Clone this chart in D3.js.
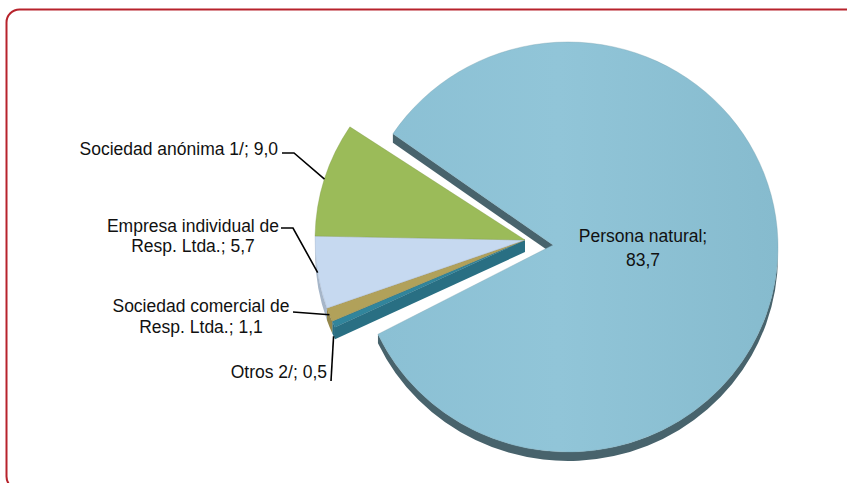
<!DOCTYPE html>
<html>
<head>
<meta charset="utf-8">
<script src="https://cdn.jsdelivr.net/npm/d3@7"></script>
<style>
  body { margin: 0; background: #fff; }
  svg { display: block; font-family: "Liberation Sans", Arial, sans-serif; }
</style>
</head>
<body>
<svg id="chart" width="847" height="483"></svg>
<script>
// data (percentages), clockwise starting with the exploded slice
var categories = ["Persona natural", "Otros 2/", "Sociedad comercial de Resp. Ltda.", "Empresa individual de Resp. Ltda.", "Sociedad anónima 1/"];
var values = [83.7, 0.5, 1.1, 5.7, 9.0];
var colors = ["#8DC2D5", "#31859C", "#B1A15A", "#C6D9F0", "#9BBB59"];

// label placement (not data)
var labelLayout = [
  {x: 643, y: 242, anchor: "middle", breakAfter: 2, lineH: 24},
  {x: 327, y: 378, anchor: "end", leader: [[331, 381]], bottom: true},
  {x: 201, y: 312, anchor: "middle", breakAfter: 3, lineH: 21, leader: [[293, 312]]},
  {x: 193, y: 232, anchor: "middle", breakAfter: 3, lineH: 20, leader: [[281, 228], [293, 228]]},
  {x: 278, y: 155, anchor: "end", leader: [[282, 153], [294, 153]]}
];

var svg = d3.select("#chart");
var fmt = d3.formatLocale({decimal: ",", thousands: ".", grouping: [3], currency: ["", ""]}).format(".1f");

// frame
svg.append("rect")
  .attr("x", 6.5).attr("y", 9.5)
  .attr("width", 870).attr("height", 480)
  .attr("rx", 13).attr("ry", 13)
  .attr("fill", "none")
  .attr("stroke", "#B7232C")
  .attr("stroke-width", 2);

// pie geometry: flattened ellipse with a little thickness
var center = [525, 240], rx = 210, ry = 205;
var start = -56.5 * Math.PI / 180;
var explodeApex = [28, 5], explodeRim = [43, 7];

var pie = d3.pie().sort(null).value(function(d) { return d; })
  .startAngle(start).endAngle(start + 2 * Math.PI);
var arcs = pie(values);

arcs.forEach(function(d, i) {
  var ex = i === 0;
  d.apex = ex ? [center[0] + explodeApex[0], center[1] + explodeApex[1]] : center.slice();
  d.rim = ex ? [center[0] + explodeRim[0], center[1] + explodeRim[1]] : center.slice();
  d.group = ex ? 1 : 0;
  d.depth = ex ? 9 : 12;
  d.color = colors[i];
});

function pt(c, a, dy) {
  return [c[0] + rx * Math.sin(a), c[1] - ry * Math.cos(a) + (dy || 0)];
}

function topPath(d) {
  var p0 = pt(d.rim, d.startAngle), p1 = pt(d.rim, d.endAngle);
  var large = (d.endAngle - d.startAngle) > Math.PI ? 1 : 0;
  return "M" + d.apex + "L" + p0 + "A" + rx + "," + ry + " 0 " + large + " 1 " + p1 + "Z";
}

// visible outer wall: where the rim faces the viewer (lower half)
function rimPath(d) {
  var lo = Math.PI / 2, hi = 3 * Math.PI / 2, out = [];
  [-2, 0, 2].forEach(function(k) {
    var b0 = Math.max(d.startAngle, lo + k * Math.PI), b1 = Math.min(d.endAngle, hi + k * Math.PI);
    if (b1 > b0) {
      var large = (b1 - b0) > Math.PI ? 1 : 0;
      var p0 = pt(d.rim, b0), p1 = pt(d.rim, b1), q1 = pt(d.rim, b1, d.depth), q0 = pt(d.rim, b0, d.depth);
      out.push("M" + p0 + "A" + rx + "," + ry + " 0 " + large + " 1 " + p1 +
        "L" + q1 + "A" + rx + "," + ry + " 0 " + large + " 0 " + q0 + "Z");
    }
  });
  return out.join("");
}

// cut faces that hang below an exposed straight edge
function edgePath(d, a) {
  var p = pt(d.rim, a);
  return "M" + d.apex + "L" + p + "L" + [p[0], p[1] + d.depth] + "L" + [d.apex[0], d.apex[1] + d.depth] + "Z";
}

var defs = svg.append("defs");
var grad = defs.append("linearGradient").attr("id", "bigTop")
  .attr("x1", "0%").attr("x2", "100%").attr("y1", "0%").attr("y2", "0%");
grad.append("stop").attr("offset", "0%").attr("stop-color", "#8BC0D4");
grad.append("stop").attr("offset", "45%").attr("stop-color", "#91C5D8");
grad.append("stop").attr("offset", "100%").attr("stop-color", "#86BBCE");

var gSide = svg.append("g"), gTop = svg.append("g");
var n = arcs.length;

arcs.forEach(function(d, i) {
  var side = d3.color(d.color).darker(i === 0 ? 1.9 : 0.5).toString();
  var r = rimPath(d);
  if (r) gSide.append("path").attr("d", r).attr("fill", side);
  var prev = arcs[(i - 1 + n) % n], next = arcs[(i + 1) % n];
  if (prev.group !== d.group && Math.sin(d.startAngle) < 0)
    gSide.append("path").attr("d", edgePath(d, d.startAngle)).attr("fill", side);
  if (next.group !== d.group && Math.sin(d.endAngle) > 0)
    gSide.append("path").attr("d", edgePath(d, d.endAngle)).attr("fill", side);
});

gTop.selectAll("path")
  .data(arcs)
  .enter().append("path")
  .attr("d", topPath)
  .attr("fill", function(d, i) { return i === 0 ? "url(#bigTop)" : d.color; })
  .attr("stroke", function(d) { return d3.color(d.color).darker(0.6); })
  .attr("stroke-opacity", 0.5)
  .attr("stroke-width", 0.7)
  .attr("stroke-linejoin", "round");

// labels and leader lines
var gLab = svg.append("g");
arcs.forEach(function(d, i) {
  var L = labelLayout[i];
  var words = (categories[i] + "; " + fmt(values[i])).split(" ");
  var lines = L.breakAfter ? [words.slice(0, L.breakAfter).join(" "), words.slice(L.breakAfter).join(" ")] : [words.join(" ")];
  var t = gLab.append("text")
    .attr("text-anchor", L.anchor)
    .attr("font-size", "17.5px")
    .attr("fill", "#111");
  lines.forEach(function(s, j) {
    t.append("tspan").attr("x", L.x).attr("y", L.y + j * (L.lineH || 0)).text(s);
  });
  if (L.leader) {
    var m = (d.startAngle + d.endAngle) / 2;
    var end = pt(d.rim, m, L.bottom ? d.depth : 0);
    gLab.append("path")
      .attr("d", d3.line()(L.leader.concat([end])))
      .attr("fill", "none")
      .attr("stroke", "#000")
      .attr("stroke-width", 1.6);
  }
});
</script>
</body>
</html>
